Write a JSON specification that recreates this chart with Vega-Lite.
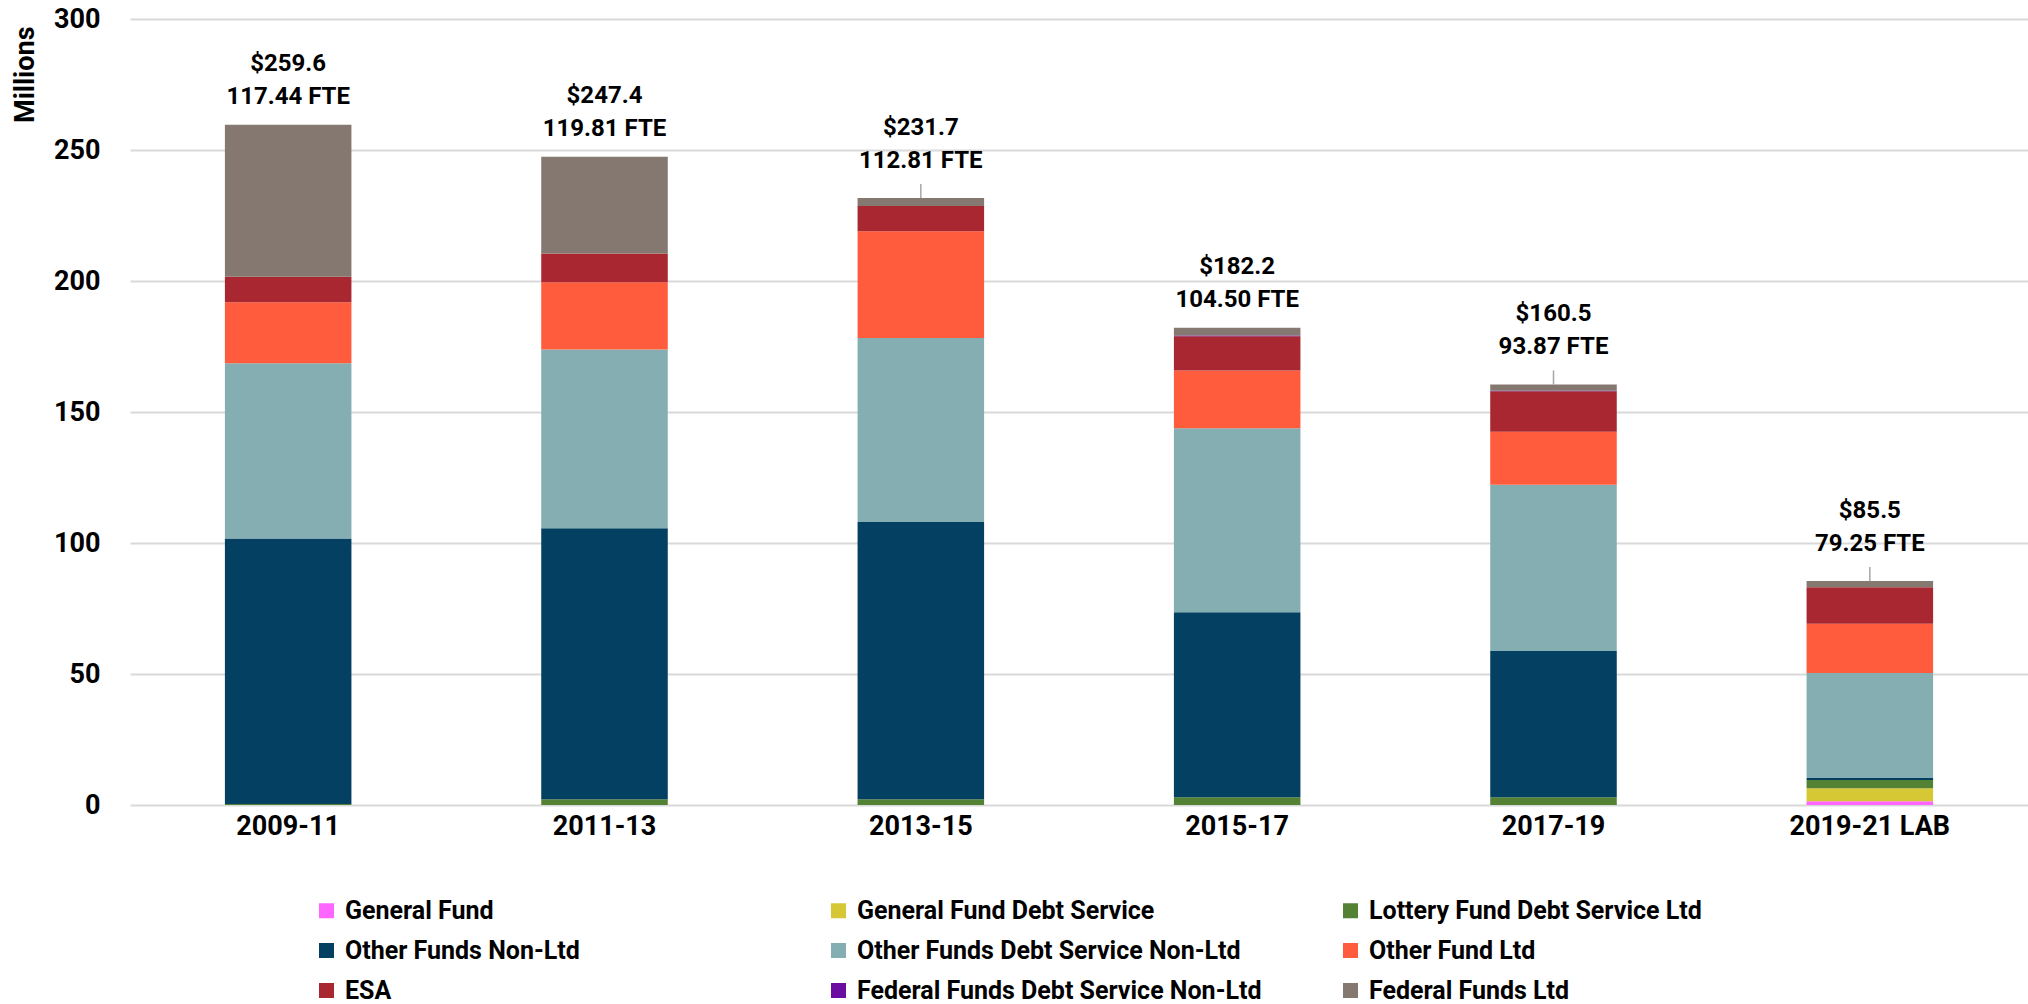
{
  "$schema": "https://vega.github.io/schema/vega-lite/v6.json",
  "width": 1898,
  "height": 786,
  "autosize": {"type": "none"},
  "padding": {"left": 130, "top": 19, "right": 0, "bottom": 199},
  "background": "white",
  "config": {"font": "Roboto", "view": {"stroke": null}},
  "datasets": {
    "segments": [
      {"period": "2009-11", "series": "Lottery Fund Debt Service Ltd", "k": 3, "value": 0.4},
      {"period": "2009-11", "series": "Other Funds Non-Ltd", "k": 4, "value": 101.3},
      {"period": "2009-11", "series": "Other Funds Debt Service Non-Ltd", "k": 5, "value": 66.9},
      {"period": "2009-11", "series": "Other Fund Ltd", "k": 6, "value": 23.3},
      {"period": "2009-11", "series": "ESA", "k": 7, "value": 9.7},
      {"period": "2009-11", "series": "Federal Funds Ltd", "k": 9, "value": 58.0},
      {"period": "2011-13", "series": "Lottery Fund Debt Service Ltd", "k": 3, "value": 2.2},
      {"period": "2011-13", "series": "Other Funds Non-Ltd", "k": 4, "value": 103.4},
      {"period": "2011-13", "series": "Other Funds Debt Service Non-Ltd", "k": 5, "value": 68.3},
      {"period": "2011-13", "series": "Other Fund Ltd", "k": 6, "value": 25.6},
      {"period": "2011-13", "series": "ESA", "k": 7, "value": 11.0},
      {"period": "2011-13", "series": "Federal Funds Ltd", "k": 9, "value": 36.9},
      {"period": "2013-15", "series": "Lottery Fund Debt Service Ltd", "k": 3, "value": 2.2},
      {"period": "2013-15", "series": "Other Funds Non-Ltd", "k": 4, "value": 105.8},
      {"period": "2013-15", "series": "Other Funds Debt Service Non-Ltd", "k": 5, "value": 70.2},
      {"period": "2013-15", "series": "Other Fund Ltd", "k": 6, "value": 40.8},
      {"period": "2013-15", "series": "ESA", "k": 7, "value": 9.6},
      {"period": "2013-15", "series": "Federal Funds Ltd", "k": 9, "value": 3.1},
      {"period": "2015-17", "series": "Lottery Fund Debt Service Ltd", "k": 3, "value": 3.0},
      {"period": "2015-17", "series": "Other Funds Non-Ltd", "k": 4, "value": 70.6},
      {"period": "2015-17", "series": "Other Funds Debt Service Non-Ltd", "k": 5, "value": 70.2},
      {"period": "2015-17", "series": "Other Fund Ltd", "k": 6, "value": 22.0},
      {"period": "2015-17", "series": "ESA", "k": 7, "value": 13.1},
      {"period": "2015-17", "series": "Federal Funds Debt Service Non-Ltd", "k": 8, "value": 0.3},
      {"period": "2015-17", "series": "Federal Funds Ltd", "k": 9, "value": 3.0},
      {"period": "2017-19", "series": "Lottery Fund Debt Service Ltd", "k": 3, "value": 3.0},
      {"period": "2017-19", "series": "Other Funds Non-Ltd", "k": 4, "value": 55.8},
      {"period": "2017-19", "series": "Other Funds Debt Service Non-Ltd", "k": 5, "value": 63.4},
      {"period": "2017-19", "series": "Other Fund Ltd", "k": 6, "value": 20.3},
      {"period": "2017-19", "series": "ESA", "k": 7, "value": 15.4},
      {"period": "2017-19", "series": "Federal Funds Debt Service Non-Ltd", "k": 8, "value": 0.2},
      {"period": "2017-19", "series": "Federal Funds Ltd", "k": 9, "value": 2.4},
      {"period": "2019-21 LAB", "series": "General Fund", "k": 1, "value": 1.4},
      {"period": "2019-21 LAB", "series": "General Fund Debt Service", "k": 2, "value": 5.0},
      {"period": "2019-21 LAB", "series": "Lottery Fund Debt Service Ltd", "k": 3, "value": 3.1},
      {"period": "2019-21 LAB", "series": "Other Funds Non-Ltd", "k": 4, "value": 0.8},
      {"period": "2019-21 LAB", "series": "Other Funds Debt Service Non-Ltd", "k": 5, "value": 40.1},
      {"period": "2019-21 LAB", "series": "Other Fund Ltd", "k": 6, "value": 18.8},
      {"period": "2019-21 LAB", "series": "ESA", "k": 7, "value": 13.9},
      {"period": "2019-21 LAB", "series": "Federal Funds Ltd", "k": 9, "value": 2.4}
    ],
    "totals": [
      {"period": "2009-11", "total": 259.6, "amount": "$259.6", "fte": "117.44 FTE"},
      {"period": "2011-13", "total": 247.4, "amount": "$247.4", "fte": "119.81 FTE"},
      {"period": "2013-15", "total": 231.7, "amount": "$231.7", "fte": "112.81 FTE"},
      {"period": "2015-17", "total": 182.2, "amount": "$182.2", "fte": "104.50 FTE"},
      {"period": "2017-19", "total": 160.5, "amount": "$160.5", "fte": "93.87 FTE"},
      {"period": "2019-21 LAB", "total": 85.5, "amount": "$85.5", "fte": "79.25 FTE"}
    ]
  },
  "layer": [
    {
      "data": {"name": "segments"},
      "mark": {"type": "bar"},
      "encoding": {
        "x": {
          "field": "period", "type": "nominal",
          "sort": ["2009-11", "2011-13", "2013-15", "2015-17", "2017-19", "2019-21 LAB"],
          "scale": {"paddingInner": 0.6, "paddingOuter": 0.3},
          "title": null,
          "axis": {"labelAngle": 0, "labelFontSize": 27, "labelFontWeight": "bold", "labelColor": "#000000", "labelPadding": 8, "ticks": false, "domain": false, "labelBaseline": "top"}
        },
        "y": {
          "field": "value", "type": "quantitative", "stack": "zero",
          "scale": {"domain": [0, 300], "nice": false},
          "title": "Millions",
          "axis": {
            "values": [0, 50, 100, 150, 200, 250, 300],
            "labelFontSize": 27, "labelFontWeight": "bold", "labelColor": "#000000", "labelPadding": 30,
            "ticks": false, "domain": false,
            "gridColor": "#D9D9D9", "gridWidth": 2,
            "titleFontSize": 27, "titleFontWeight": "bold", "titleColor": "#000000",
            "titleAngle": -90, "titleX": -105, "titleY": 7, "titleAlign": "right", "titleBaseline": "middle"
          }
        },
        "color": {
          "field": "series", "type": "nominal",
          "scale": {
            "domain": ["General Fund", "General Fund Debt Service", "Lottery Fund Debt Service Ltd", "Other Funds Non-Ltd", "Other Funds Debt Service Non-Ltd", "Other Fund Ltd", "ESA", "Federal Funds Debt Service Non-Ltd", "Federal Funds Ltd"],
            "range": ["#FF66FF", "#D6C734", "#538234", "#034062", "#85AEB3", "#FF5C3D", "#A92731", "#6A0DA0", "#857870"]
          },
          "legend": {
            "title": null, "orient": "none", "legendX": 184, "legendY": 879, "direction": "horizontal",
            "columns": 3, "gridAlign": "all", "columnPadding": 76, "rowPadding": 14,
            "symbolType": "square", "symbolSize": 225, "symbolStrokeWidth": 0,
            "labelFontSize": 25, "labelFontWeight": "bold", "labelColor": "#000000", "labelLimit": 700, "labelOffset": 6
          }
        },
        "order": {"field": "k", "type": "quantitative", "sort": "ascending"}
      }
    },
    {
      "data": {"name": "totals"},
      "transform": [{"filter": {"field": "period", "oneOf": ["2013-15", "2017-19", "2019-21 LAB"]}}],
      "mark": {"type": "rule", "color": "#A6A6A6", "strokeWidth": 1.5, "y2Offset": -14},
      "encoding": {
        "x": {"field": "period", "type": "nominal", "sort": ["2009-11", "2011-13", "2013-15", "2015-17", "2017-19", "2019-21 LAB"]},
        "y": {"field": "total", "type": "quantitative"},
        "y2": {"field": "total"}
      }
    },
    {
      "data": {"name": "totals"},
      "transform": [{"filter": {"not": {"field": "period", "oneOf": ["2013-15", "2017-19", "2019-21 LAB"]}}}],
      "mark": {"type": "text", "fontSize": 24, "fontWeight": "bold", "color": "#000000", "baseline": "middle", "dy": -28},
      "encoding": {
        "x": {"field": "period", "type": "nominal", "sort": ["2009-11", "2011-13", "2013-15", "2015-17", "2017-19", "2019-21 LAB"]},
        "y": {"field": "total", "type": "quantitative"},
        "text": {"field": "fte"}
      }
    },
    {
      "data": {"name": "totals"},
      "transform": [{"filter": {"not": {"field": "period", "oneOf": ["2013-15", "2017-19", "2019-21 LAB"]}}}],
      "mark": {"type": "text", "fontSize": 24, "fontWeight": "bold", "color": "#000000", "baseline": "middle", "dy": -61},
      "encoding": {
        "x": {"field": "period", "type": "nominal", "sort": ["2009-11", "2011-13", "2013-15", "2015-17", "2017-19", "2019-21 LAB"]},
        "y": {"field": "total", "type": "quantitative"},
        "text": {"field": "amount"}
      }
    },
    {
      "data": {"name": "totals"},
      "transform": [{"filter": {"field": "period", "oneOf": ["2013-15", "2017-19", "2019-21 LAB"]}}],
      "mark": {"type": "text", "fontSize": 24, "fontWeight": "bold", "color": "#000000", "baseline": "middle", "dy": -37},
      "encoding": {
        "x": {"field": "period", "type": "nominal", "sort": ["2009-11", "2011-13", "2013-15", "2015-17", "2017-19", "2019-21 LAB"]},
        "y": {"field": "total", "type": "quantitative"},
        "text": {"field": "fte"}
      }
    },
    {
      "data": {"name": "totals"},
      "transform": [{"filter": {"field": "period", "oneOf": ["2013-15", "2017-19", "2019-21 LAB"]}}],
      "mark": {"type": "text", "fontSize": 24, "fontWeight": "bold", "color": "#000000", "baseline": "middle", "dy": -70},
      "encoding": {
        "x": {"field": "period", "type": "nominal", "sort": ["2009-11", "2011-13", "2013-15", "2015-17", "2017-19", "2019-21 LAB"]},
        "y": {"field": "total", "type": "quantitative"},
        "text": {"field": "amount"}
      }
    }
  ]
}
